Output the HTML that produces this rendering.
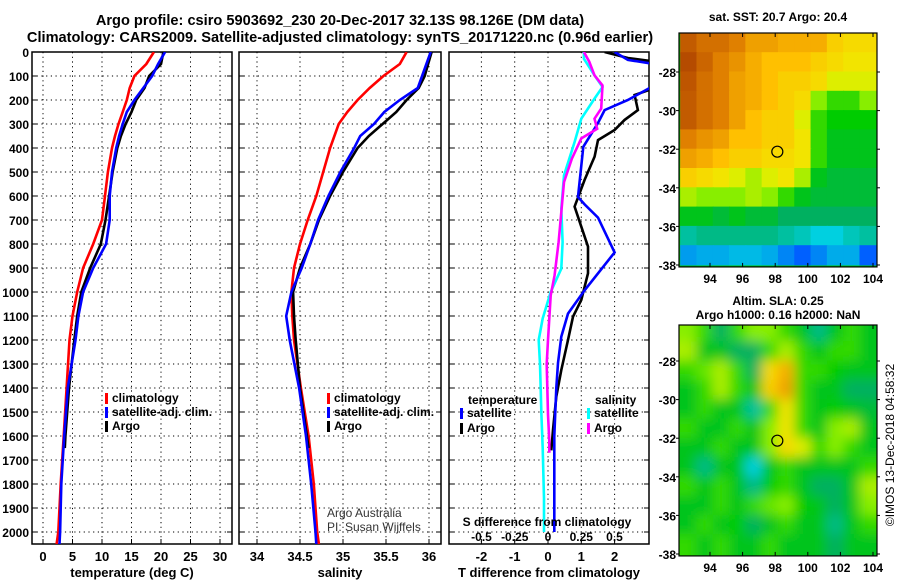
<!DOCTYPE html>
<html><head><meta charset="utf-8"><style>
body{margin:0;background:#fff;width:900px;height:580px;overflow:hidden}
svg{font-family:"Liberation Sans",sans-serif;font-weight:bold}
</style></head><body>
<svg id="c" width="900" height="580" xmlns="http://www.w3.org/2000/svg">
<text x="340" y="25" font-size="14.6" text-anchor="middle">Argo profile: csiro 5903692_230 20-Dec-2017 32.13S 98.126E (DM data)</text>
<text x="340" y="42" font-size="14.6" text-anchor="middle">Climatology: CARS2009. Satellite-adjusted climatology: synTS_20171220.nc (0.96d earlier)</text>
</svg>
<script>
const depths=[0,50,100,150,200,250,300,350,400,500,600,700,800,900,1000,1100,1200,1400,1600,1800,2000,2050];
const tClim=[18.8,17.5,15.5,14.7,14.2,13.5,12.8,12.2,11.7,11,10.5,10,8.5,6.8,5.8,5,4.5,4,3.5,3,2.6,2.3];
const tSat=[20.7,19.5,18.5,17,15.5,14.2,13.5,12.9,12.4,11.7,11.3,11.3,10.7,8.5,6.8,6,5.5,4.2,3.6,3.1,2.9,2.8];
const argoDepths=[0,50,100,150,200,250,300,350,400,500,600,700,800,900,1000,1100,1200,1400,1600,1650];
const tArgo=[20.4,20,18,17.2,15.8,15,14,13.2,12.6,11.8,11.2,10.6,9.8,8,6.5,5.8,5.3,4.4,3.8,3.7];
const sClim=[35.74,35.66,35.47,35.31,35.17,35.05,34.95,34.9,34.85,34.77,34.69,34.59,34.5,34.43,34.4,34.41,34.43,34.51,34.6,34.66,34.7,34.72];
const sSat=[36.02,35.97,35.92,35.87,35.66,35.48,35.36,35.2,35.13,34.97,34.83,34.71,34.62,34.52,34.4,34.34,34.38,34.49,34.57,34.63,34.68,34.69];
const sArgo=[36.03,35.99,35.95,35.88,35.74,35.62,35.46,35.3,35.17,35,34.85,34.72,34.62,34.5,34.42,34.43,34.45,34.5,34.58,34.6];
const dtSatDepths=[0,33,50,100,150,200,242,296,395,604,635,690,835,993,1090,1186,1296,1400,1600,2000];
const dtSat=[2.0,2.4,3.2,3.2,3.05,2.4,1.7,1.5,1.06,0.9,1.1,1.5,2.0,1.1,0.6,0.4,0.3,0.25,0.19,0.19];
const dtArgoDepths=[0,25,40,150,179,242,283,325,367,436,533,644,728,811,922,1033,1103,1200,1325,1436,1575,1660];
const dtArgo=[1.7,2.4,3.2,3.2,2.6,2.7,2.3,2.0,1.5,1.4,1.1,0.8,1.0,1.2,1.2,1.0,0.75,0.6,0.4,0.25,0.15,0.1];
const dsSatDepths=[0,28,97,146,194,278,375,514,653,792,903,1000,1110,1200,1300,1510,1650,1860,2000];
const dsSat=[0.27,0.27,0.35,0.41,0.35,0.25,0.2,0.12,0.1,0.11,0.1,0.02,-0.04,-0.07,-0.06,-0.05,-0.04,-0.03,-0.03];
const dsArgoDepths=[0,40,97,139,236,278,320,360,444,542,792,930,1014,1200,1300,1510,1620,1670];
const dsArgo=[0.27,0.31,0.35,0.41,0.4,0.35,0.37,0.25,0.18,0.12,0.08,0.05,0.02,0,-0.01,0,0.01,0.01];
const depthTicks=[0,100,200,300,400,500,600,700,800,900,1000,1100,1200,1300,1400,1500,1600,1700,1800,1900,2000];
const tTicks=[0,5,10,15,20,25,30];
const sTicks=[34,34.5,35,35.5,36];
const dtTicks=[-2,-1,0,1,2];
const dsTicks=[-0.5,-0.25,0,0.25,0.5];
const dsTickLabels=["-0.5","-0.25","0","0.25","0.5"];
const sstLat=[-26.5,-27.5,-28.5,-29.5,-30.5,-31.5,-32.5,-33.5,-34.5,-35.5,-36.5,-37.5];
const sstGrid=[
[.92,.88,.88,.85,.8,.8,.78,.78,.78,.72,.7,.7],
[.95,.9,.85,.82,.78,.75,.75,.75,.72,.7,.68,.68],
[.93,.88,.85,.8,.78,.75,.72,.72,.7,.65,.65,.65],
[.92,.88,.85,.8,.78,.75,.72,.7,.6,.55,.55,.6],
[.92,.88,.85,.8,.75,.72,.72,.65,.55,.52,.52,.52],
[.85,.82,.8,.75,.75,.72,.72,.68,.55,.5,.5,.5],
[.8,.78,.75,.72,.72,.7,.7,.68,.55,.5,.5,.5],
[.72,.7,.68,.65,.62,.65,.68,.62,.5,.48,.48,.48],
[.62,.6,.6,.6,.62,.6,.55,.5,.48,.48,.48,.48],
[.5,.5,.48,.5,.48,.48,.45,.45,.45,.45,.45,.45],
[.4,.42,.42,.42,.42,.42,.4,.38,.35,.35,.38,.4],
[.28,.3,.3,.32,.32,.3,.25,.2,.25,.3,.3,.2]];
const slaGrid=[
[.6,.55,.45,.55,.6,.6,.55,.5,.42,.5,.55,.5],
[.62,.5,.5,.45,.45,.55,.62,.55,.5,.55,.55,.5],
[.55,.58,.62,.55,.45,.7,.78,.55,.55,.52,.5,.5],
[.5,.55,.62,.55,.5,.72,.8,.55,.5,.5,.45,.45],
[.5,.55,.5,.5,.4,.55,.68,.55,.5,.52,.5,.48],
[.55,.5,.5,.55,.5,.6,.68,.55,.5,.6,.62,.5],
[.5,.5,.55,.5,.5,.6,.7,.65,.55,.6,.55,.5],
[.5,.42,.5,.5,.35,.5,.55,.5,.5,.5,.5,.55],
[.55,.5,.55,.5,.42,.52,.55,.5,.45,.45,.5,.62],
[.5,.5,.55,.5,.55,.58,.6,.52,.5,.45,.5,.6],
[.5,.55,.5,.52,.45,.5,.55,.5,.5,.42,.5,.55],
[.55,.5,.55,.5,.5,.55,.5,.5,.5,.45,.5,.5]];
const lonTicks=[94,96,98,100,102,104];
const latTicks=[-28,-30,-32,-34,-36,-38];

const NS="http://www.w3.org/2000/svg",svg=document.getElementById('c');
function el(t,a,p){const e=document.createElementNS(NS,t);for(const k in a)e.setAttribute(k,a[k]);(p||svg).appendChild(e);return e;}
function txt(x,y,s,size,anchor,p){const e=el('text',{x:x,y:y,'font-size':size,'text-anchor':anchor||'start'},p);e.textContent=s;return e;}
const Y0=52,Y1=544;
const yD=d=>Y0+d*(Y1-Y0)/2050;
function panel(name,x0,x1,xf,ticks,labels,title){
  const g=el('g',{});
  
  
  const cp=el('clipPath',{id:'cp'+name},g);el('rect',{x:x0,y:Y0,width:x1-x0,height:Y1-Y0},cp);
  depthTicks.forEach(d=>{el('line',{x1:x0,x2:x1,y1:yD(d),y2:yD(d),stroke:'#000','stroke-dasharray':'1.2,3.5','stroke-width':1},g);
    el('line',{x1:x0,x2:x0+5,y1:yD(d),y2:yD(d),stroke:'#000'},g);el('line',{x1:x1-5,x2:x1,y1:yD(d),y2:yD(d),stroke:'#000'},g);});
  ticks.forEach((t,i)=>{const x=xf(t);el('line',{x1:x,x2:x,y1:Y0,y2:Y1,stroke:'#000','stroke-dasharray':'1.2,3.5'},g);
    el('line',{x1:x,x2:x,y1:Y1-5,y2:Y1,stroke:'#000'},g);
    if(labels){const l=txt(x,561,labels[i],13,'middle',g);}});
  el('rect',{x:x0,y:Y0,width:x1-x0,height:Y1-Y0,fill:'none',stroke:'#000','stroke-width':1.5},g);
  if(title){const t=txt((x0+x1)/2,577,title,13,'middle',g);}
  return {g:g,clip:'url(#cp'+name+')'};
}
function line(P,ds,vs,xf,col,name){const pts=ds.map((d,i)=>xf(vs[i]).toFixed(1)+','+yD(d).toFixed(1)).join(' ');
  const l=el('polyline',{points:pts,fill:'none',stroke:col,'stroke-width':2.6,'clip-path':P.clip},P.g);
  
  }
function legend(P,x,y,col,label,name){const r=el('rect',{x:x,y:y-9,width:3,height:11,fill:col},P.g);
  
  
  const t=txt(x+7,y,label,12,'start',P.g);
  
  }
depthTicks.forEach(d=>{const t=txt(29,yD(d)+5,String(d),12,'end');
  
  });
const xT=v=>43+5.9*v;
const P1=panel('temperature-panel',32,232,xT,tTicks,tTicks.map(String),'temperature (deg C)');
line(P1,depths,tClim,xT,'#f00','temp-climatology-line');
line(P1,argoDepths,tArgo,xT,'#000','temp-argo-line');
line(P1,depths,tSat,xT,'#00f','temp-satellite-line');
legend(P1,105,402,'#f00','climatology','legend-climatology');
legend(P1,105,416,'#00f','satellite-adj. clim.','legend-satellite');
legend(P1,105,430,'#000','Argo','legend-argo');
const xS=v=>257+86*(v-34);
const P2=panel('salinity-panel',239,441,xS,sTicks,sTicks.map(String),'salinity');
line(P2,depths,sClim,xS,'#f00','sal-climatology-line');
line(P2,argoDepths,sArgo,xS,'#000','sal-argo-line');
line(P2,depths,sSat,xS,'#00f','sal-satellite-line');
legend(P2,327,402,'#f00','climatology','legend-climatology-2');
legend(P2,327,416,'#00f','satellite-adj. clim.','legend-satellite-2');
legend(P2,327,430,'#000','Argo','legend-argo-2');
[['Argo Australia',517],['PI: Susan Wijffels',531]].forEach(a=>{const t=txt(327,a[1],a[0],12,'start',P2.g);t.setAttribute('font-weight','normal');t.setAttribute('fill','#333');
  
  });
const xDT=v=>548+33.3*v, xDS=v=>548+133*v;
const P3=panel('difference-panel',449,649,xDT,dtTicks,dtTicks.map(String),'T difference from climatology');
line(P3,dtArgoDepths,dtArgo,xDT,'#000','dt-argo-line');
line(P3,dtSatDepths,dtSat,xDT,'#00f','dt-satellite-line');
line(P3,dsSatDepths,dsSat,xDS,'#0ff','ds-satellite-line');
line(P3,dsArgoDepths,dsArgo,xDS,'#f0f','ds-argo-line');
{const t=txt(468,404,'temperature',12,'start',P3.g);
 const s=txt(595,404,'salinity',12,'start',P3.g);}
legend(P3,460,417,'#00f','satellite','legend-t-satellite');
legend(P3,460,432,'#000','Argo','legend-t-argo');
legend(P3,587,417,'#0ff','satellite','legend-s-satellite');
legend(P3,587,432,'#f0f','Argo','legend-s-argo');
{const t=txt(547,526,'S difference from climatology',12,'middle',P3.g);}
dsTicks.forEach((v,i)=>{const t=txt(xDS(v),541,dsTickLabels[i],12,'middle',P3.g);
  
  });
const stops=[[0,[0,0,160]],[0.2,[0,96,255]],[0.35,[0,208,224]],[0.45,[0,176,96]],[0.52,[0,204,0]],[0.6,[136,238,0]],[0.66,[238,238,0]],[0.75,[255,192,0]],[0.85,[224,128,0]],[1,[160,48,0]]];
function cmap(v){for(let i=1;i<stops.length;i++){if(v<=stops[i][0]){const a=stops[i-1],b=stops[i],f=(v-a[0])/(b[0]-a[0]);
  return 'rgb('+a[1].map((c,k)=>Math.round(c+f*(b[1][k]-c))).join(',')+')';}}return 'rgb(160,48,0)';}
function map(name,x0,x1,yTop,y28,y38,grid,title1,title2,blur){
  const g=el('g',{});
  
  
  const lonX=l=>710+(l-94)*16.3, latY=l=>y28+(-28-l)*(y38-y28)/10;
  const yBot=latY(-38.1);
  const cp=el('clipPath',{id:'cp'+name},g);el('rect',{x:x0,y:yTop,width:x1-x0,height:yBot-yTop},cp);
  const outer=el('g',{'clip-path':'url(#cp'+name+')'},g);
  el('rect',{x:x0,y:yTop,width:x1-x0,height:yBot-yTop,fill:cmap(0.52)},outer);
  const cells=el('g',{},outer);
  if(blur){const f=el('filter',{id:'bl'+name,x:'-20%',y:'-20%',width:'140%',height:'140%'},g);el('feGaussianBlur',{stdDeviation:6,edgeMode:'duplicate'},f);cells.setAttribute('filter','url(#bl'+name+')');}
  const ch=(y38-y28)/10;
  grid.forEach((row,r)=>row.forEach((v,c)=>{const lon=92.2+c, lat=sstLat[r];
    let x=lonX(lon)-0.5,y=latY(lat+0.5)-0.5,w=16.3+1,h=ch+1;
    if(blur){if(c===0){x-=20;w+=20;} if(c===row.length-1)w+=20; if(r===0){y-=20;h+=20;} if(r===grid.length-1)h+=20;}
    const rc=el('rect',{x:x,y:y,width:w,height:h,fill:cmap(v)},cells);
    
    }));
  el('rect',{x:x0,y:yTop,width:x1-x0,height:yBot-yTop,fill:'none',stroke:'#000','stroke-width':1.2},g);
  lonTicks.forEach(l=>{el('line',{x1:lonX(l),x2:lonX(l),y1:yBot,y2:yBot-4,stroke:'#000'},g);el('line',{x1:lonX(l),x2:lonX(l),y1:yTop,y2:yTop+4,stroke:'#000'},g);
    const t=txt(lonX(l),yBot+16,String(l),12,'middle',g);});
  latTicks.forEach(l=>{el('line',{x1:x0,x2:x0-3,y1:latY(l),y2:latY(l),stroke:'#000'},g);el('line',{x1:x1,x2:x1+3,y1:latY(l),y2:latY(l),stroke:'#000'},g);
    const t=txt(x0-3,latY(l)+5,String(l),12,'end',g);});
  const c=el('circle',{cx:lonX(98.13),cy:latY(-32.13),r:5.5,fill:'none',stroke:'#000','stroke-width':1.2},g);
  
  
  const t1=txt((x0+x1)/2,title2?yTop-20:yTop-12,title1,12,'middle',g);
  if(title2){const t2=txt((x0+x1)/2,yTop-6,title2,12,'middle',g);}
}
map('sst-map',679,877,33,72,265,sstGrid,'sat. SST: 20.7 Argo: 20.4',null,false);
map('sla-map',679,877,325,361,554,slaGrid,'Altim. SLA: 0.25','Argo h1000: 0.16 h2000: NaN',true);
{const t=txt(0,0,'©IMOS 13-Dec-2018 04:58:32',12,'middle');t.setAttribute('font-weight','normal');t.setAttribute('transform','translate(894,445) rotate(-90)');
 }
</script>
</body></html>
